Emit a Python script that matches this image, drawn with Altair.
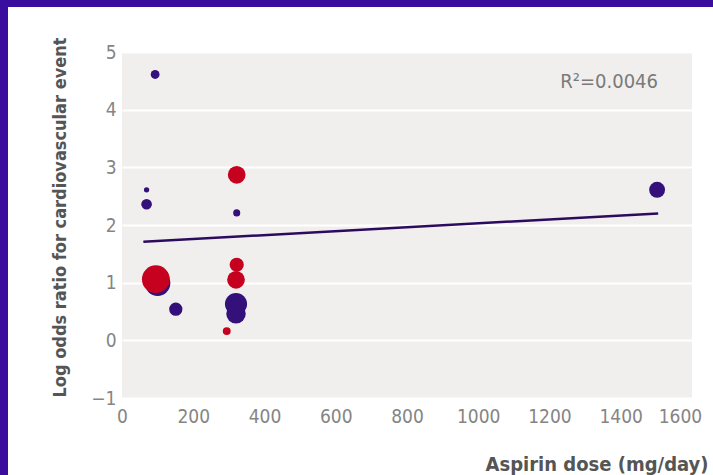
import altair as alt
import pandas as pd

# Study-level estimates: aspirin dose (mg/day), log odds ratio, study weight, group
dose = [93, 69, 69, 100, 151, 322, 320, 320, 1502, 95, 322, 322, 320, 294]
log_or = [4.61, 2.61, 2.36, 0.99, 0.54, 2.21, 0.63, 0.46, 2.61, 1.06, 2.87, 1.31, 1.05, 0.16]
weight = [25, 9, 36, 205, 56, 16, 156, 121, 81, 246, 100, 64, 100, 20]
group = ["I"] * 9 + ["II"] * 5

# Meta-regression line end points
fit_dose = [60, 1505]
fit_log_or = [1.71, 2.20]

x_ticks = [0, 200, 400, 600, 800, 1000, 1200, 1400, 1600]
y_ticks = [-1, 0, 1, 2, 3, 4, 5]

r2_label = "R\u00b2=0.0046"

W, H = 570, 346
PAD = {"left": 122, "top": 52, "right": 21, "bottom": 77}
FRAME = "#3b0d9f"
FONT = "DejaVu Sans Condensed, sans-serif"

studies = pd.DataFrame({"dose": dose, "log_or": log_or, "weight": weight, "group": group})
fit = pd.DataFrame({"dose": fit_dose, "log_or": fit_log_or})
one = pd.DataFrame({"k": [0]})

x_scale = alt.Scale(domain=[0, 1600], nice=False)
y_scale = alt.Scale(domain=[-1, 5], nice=False)

x_axis = alt.Axis(
    values=x_ticks, format="d", grid=False, domain=False, ticks=False, labelFlush=False,
    labelOffset={"condition": {"test": "datum.value == 1600", "value": -12}, "value": 0},
    labelPadding=9, labelFontSize=19, labelColor="#858585", labelFont=FONT,
    title="Aspirin dose (mg/day)", titleX=W + 16, titleY=72,
    titleAlign="right", titleBaseline="alphabetic",
    titleFontSize=20, titleFont=FONT, titleFontWeight="bold", titleColor="#555555",
)
y_axis = alt.Axis(
    values=y_ticks, format="d", grid=True, gridColor="white", gridWidth=2, domain=False,
    ticks=False, labelPadding=6, labelFontSize=19, labelColor="#858585", labelFont=FONT,
    title="Log odds ratio for cardiovascular event", titleX=-62, titleY=H / 2 - 8,
    titleAngle=270, titleAlign="center", titleBaseline="middle",
    titleFontSize=18, titleFont=FONT, titleFontWeight="bold", titleColor="#555555",
)

points = alt.Chart(studies).mark_circle(opacity=1).encode(
    x=alt.X("dose:Q", scale=x_scale, axis=x_axis),
    y=alt.Y("log_or:Q", scale=y_scale, axis=y_axis),
    size=alt.Size("weight:Q", scale=alt.Scale(domain=[0, 250], range=[0, 785]), legend=None),
    color=alt.Color("group:N", scale=alt.Scale(domain=["I", "II"], range=["#33107a", "#c6001f"]),
                    legend=None),
)

line = alt.Chart(fit).mark_line(color="#2c0b5e", strokeWidth=2.5).encode(
    x=alt.X("dose:Q", scale=x_scale),
    y=alt.Y("log_or:Q", scale=y_scale),
)

r2 = alt.Chart(one).mark_text(
    text=r2_label, align="right", baseline="middle", fontSize=20,
    font=FONT, color="#7a7a7a",
).encode(x=alt.value(W - 34), y=alt.value(30))

# Purple frame along the top and left edges of the figure
frame_top = alt.Chart(one).mark_rect(color=FRAME).encode(
    x=alt.value(-PAD["left"]), x2=alt.value(W + PAD["right"]),
    y=alt.value(-PAD["top"]), y2=alt.value(-PAD["top"] + 7),
)
frame_left = alt.Chart(one).mark_rect(color=FRAME).encode(
    x=alt.value(-PAD["left"]), x2=alt.value(-PAD["left"] + 8),
    y=alt.value(-PAD["top"]), y2=alt.value(H + PAD["bottom"]),
)

chart = alt.layer(points, line, r2, frame_top, frame_left).properties(
    width=W, height=H,
    padding=PAD,
    autosize=alt.AutoSizeParams(type="none"),
    background="white",
).configure_view(fill="#f1efed", stroke=None)

chart.save("out.html", embed_options={"renderer": "svg", "actions": False})
